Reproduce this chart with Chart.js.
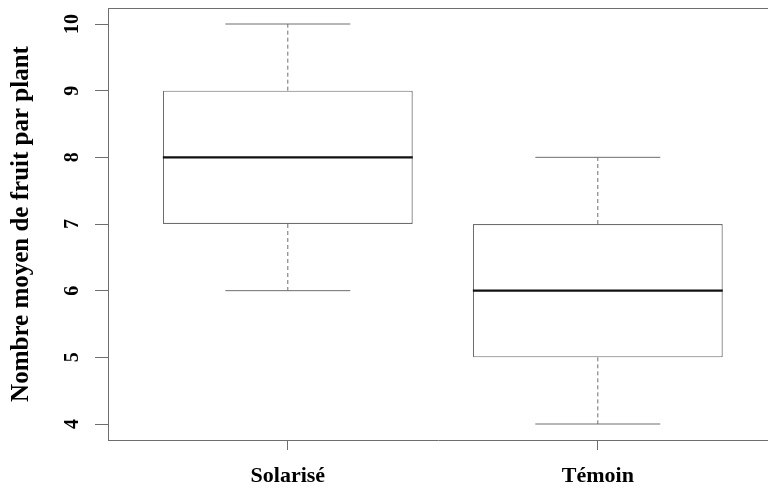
<!DOCTYPE html>
<html>
<head>
<meta charset="utf-8">
<script src="https://cdn.jsdelivr.net/npm/chart.js@4.4.0/dist/chart.umd.min.js"></script>
<style>
  html, body { margin: 0; padding: 0; background: #fff; overflow: hidden; }
  canvas { display: block; }
</style>
</head>
<body>
<canvas id="boxChart" width="768" height="489"></canvas>
<script>
// boxplot values
const categories = ['Solarisé', 'Témoin'];
const whiskerLow = [6, 4];
const quartile1 = [7, 5];
const medians = [8, 6];
const quartile3 = [9, 7];
const whiskerHigh = [10, 8];
const yTicks = [4, 5, 6, 7, 8, 9, 10];

const lineGrey = '#6e6e6e';
const serif = "'Liberation Serif', 'DejaVu Serif', serif";

// median, whiskers and caps, placed with the chart's own scales
const boxExtras = {
    id: 'boxExtras',
    afterDatasetsDraw(chart) {
        const ctx = chart.ctx;
        const y = chart.scales.y;
        const bars = chart.getDatasetMeta(0).data;
        ctx.save();
        bars.forEach(function (bar, i) {
            const half = bar.width / 2;
            const cx = bar.x;
            // whiskers (dashed)
            ctx.strokeStyle = lineGrey;
            ctx.lineWidth = 1;
            ctx.setLineDash([4, 3]);
            ctx.beginPath();
            ctx.moveTo(cx, y.getPixelForValue(quartile3[i]));
            ctx.lineTo(cx, y.getPixelForValue(whiskerHigh[i]));
            ctx.moveTo(cx, y.getPixelForValue(quartile1[i]));
            ctx.lineTo(cx, y.getPixelForValue(whiskerLow[i]));
            ctx.stroke();
            // caps
            ctx.setLineDash([]);
            ctx.beginPath();
            ctx.moveTo(cx - half / 2, y.getPixelForValue(whiskerHigh[i]));
            ctx.lineTo(cx + half / 2, y.getPixelForValue(whiskerHigh[i]));
            ctx.moveTo(cx - half / 2, y.getPixelForValue(whiskerLow[i]));
            ctx.lineTo(cx + half / 2, y.getPixelForValue(whiskerLow[i]));
            ctx.stroke();
            // median
            ctx.strokeStyle = '#111';
            ctx.lineWidth = 2.2;
            ctx.beginPath();
            ctx.moveTo(cx - half, y.getPixelForValue(medians[i]));
            ctx.lineTo(cx + half, y.getPixelForValue(medians[i]));
            ctx.stroke();
        });
        // top edge of the plot frame
        const area = chart.chartArea;
        ctx.strokeStyle = lineGrey;
        ctx.lineWidth = 1;
        ctx.beginPath();
        ctx.moveTo(area.left, area.top + 0.5);
        ctx.lineTo(area.right, area.top + 0.5);
        ctx.stroke();
        ctx.restore();
    }
};

new Chart(document.getElementById('boxChart'), {
    type: 'bar',
    data: {
        datasets: [{
            data: categories.map((c, i) => ({ x: i + 1, y: [quartile1[i], quartile3[i]] })),
            backgroundColor: '#ffffff',
            borderColor: lineGrey,
            borderWidth: 1.2,
            borderSkipped: false,
            categoryPercentage: 1,
            barPercentage: 0.806
        }]
    },
    options: {
        responsive: false,
        animation: false,
        events: [],
        layout: { padding: { top: 8, left: 0, right: 0, bottom: 0 } },
        plugins: { legend: { display: false }, tooltip: { enabled: false } },
        scales: {
            x: {
                type: 'linear',
                offset: false,
                min: 0.42,
                max: 2.549,
                afterBuildTicks: function (scale) {
                    scale.ticks = categories.map((c, i) => ({ value: i + 1 }));
                },
                afterFit: function (scale) {
                    scale.height = 49;
                    scale.paddingLeft = 0;
                    scale.paddingRight = 0;
                },
                ticks: {
                    callback: function (value) { return categories[value - 1]; },
                    color: '#000',
                    font: { family: serif, size: 22, weight: 'bold' },
                    padding: 13,
                    maxRotation: 0
                },
                grid: { offset: false, drawOnChartArea: false, drawTicks: true, tickLength: 10, color: lineGrey },
                border: { display: true, color: lineGrey, width: 1 }
            },
            y: {
                min: 3.76,
                max: 10.24,
                afterBuildTicks: function (scale) {
                    scale.ticks = yTicks.map(v => ({ value: v }));
                },
                afterFit: function (scale) {
                    scale.width = 108;
                    scale.paddingTop = 0;
                    scale.paddingBottom = 0;
                },
                ticks: {
                    color: '#000',
                    font: { family: serif, size: 20, weight: 'bold' },
                    minRotation: 90,
                    maxRotation: 90,
                    crossAlign: 'center',
                    padding: 12
                },
                grid: { drawOnChartArea: false, drawTicks: true, tickLength: 13, color: lineGrey },
                border: { display: true, color: lineGrey, width: 1 },
                title: {
                    display: true,
                    text: 'Nombre moyen de fruit par plant',
                    color: '#000',
                    font: { family: serif, size: 25, weight: 'bold' },
                    padding: { top: 7, bottom: 0 }
                }
            }
        }
    },
    plugins: [boxExtras]
});
</script>
</body>
</html>
